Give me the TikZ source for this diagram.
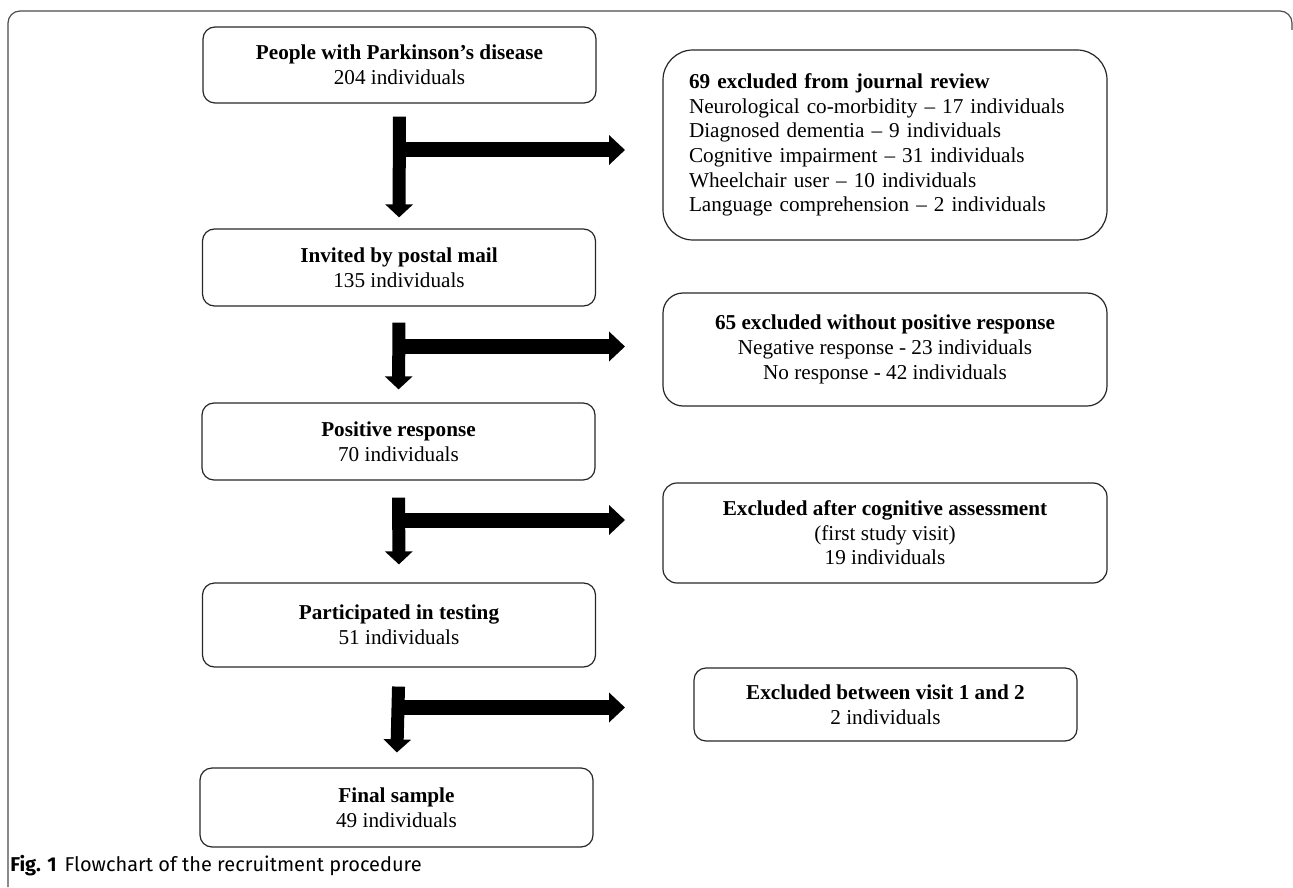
\documentclass[tikz,border=0pt]{standalone}
\usepackage{fontspec}
\setmainfont{Liberation Serif}
\newfontfamily\capfont{Fira Sans}
\usetikzlibrary{arrows.meta}

\newcommand\boxfont{\fontsize{10.6}{12.3}\selectfont}

\tikzset{
  box/.style={draw=black!85, line width=0.6pt, rounded corners=6pt, align=center, font=\boxfont, inner sep=0pt},
  stagebox/.style={box, minimum width=196.5pt},
  exclbox/.style={box, minimum width=222pt},
  vflow/.style={line width=6.5pt, -{Triangle[length=6.5pt,width=13.5pt]}},
  hflow/.style={line width=7.5pt, -{Triangle[length=8pt,width=14.5pt]}},
  frame/.style={draw=black!70, line width=0.6pt, rounded corners=6pt}
}

\begin{document}
\begin{tikzpicture}[x=0.5pt, y=-0.5pt]
\useasboundingbox (0,0) rectangle (1293,887);

% journal frame, open at the bottom
\draw[frame] (8,887) |- (1292,11) -- (1292,30);

% stages of the recruitment
\node[stagebox, minimum height=38pt] (ppl) at (399.5,65) {\textbf{People with Parkinson’s disease}\\204 individuals};
\node[stagebox, minimum height=38.5pt] (inv) at (399,267.5) {\textbf{Invited by postal mail}\\135 individuals};
\node[stagebox, minimum height=38.5pt] (pos) at (398.5,441.5) {\textbf{Positive response}\\70 individuals};
\node[stagebox, minimum height=42pt] (part) at (399,625) {\textbf{Participated in testing}\\51 individuals};
\node[stagebox, minimum height=39.5pt] (fin) at (396.5,807.5) {\textbf{Final sample}\\49 individuals};

% exclusions on the right
\node[exclbox, minimum height=95pt, rounded corners=15pt, align=left, text width=196pt, inner xsep=13pt] (excl1) at (885,145)
  {\textbf{69 excluded from journal review}\\
   Neurological co-morbidity – 17 individuals\\
   Diagnosed dementia – 9 individuals\\
   Cognitive impairment – 31 individuals\\
   Wheelchair user – 10 individuals\\
   Language comprehension – 2 individuals};
\node[exclbox, minimum height=56.5pt, rounded corners=10pt] (excl2) at (885,349.5)
  {\textbf{65 excluded without positive response}\\Negative response - 23 individuals\\No response - 42 individuals};
\node[exclbox, minimum height=50pt, rounded corners=7pt] (excl3) at (885,533)
  {\textbf{Excluded after cognitive assessment}\\(first study visit)\\19 individuals};
\node[box, minimum width=191.5pt, minimum height=36.5pt] (excl4) at (885.5,704.5)
  {\textbf{Excluded between visit 1 and 2}\\2 individuals};

% thick arrows down
\foreach \a/\b/\s/\e in {ppl/inv/6.5/5.5, inv/pos/8/6.5, pos/part/8.5/9, part/fin/9.5/7.5}
  \draw[vflow, shorten <=\s pt, shorten >=\e pt] (\a.south) -- (\b.north);

% and branches to the right
\foreach \y [count=\i] in {150,346.5,520,707.5}
{
  \coordinate (fork\i) at (397,\y);
  \coordinate (tip\i) at (625,\y);
  \draw[hflow] (fork\i) -- (tip\i);
}

\node[anchor=base west, font=\capfont\fontsize{10}{12}\selectfont, inner sep=0pt] (cap) at (10,871)
  {\textbf{Fig. 1}\hspace{4pt}Flowchart of the recruitment procedure};

\end{tikzpicture}
\end{document}
